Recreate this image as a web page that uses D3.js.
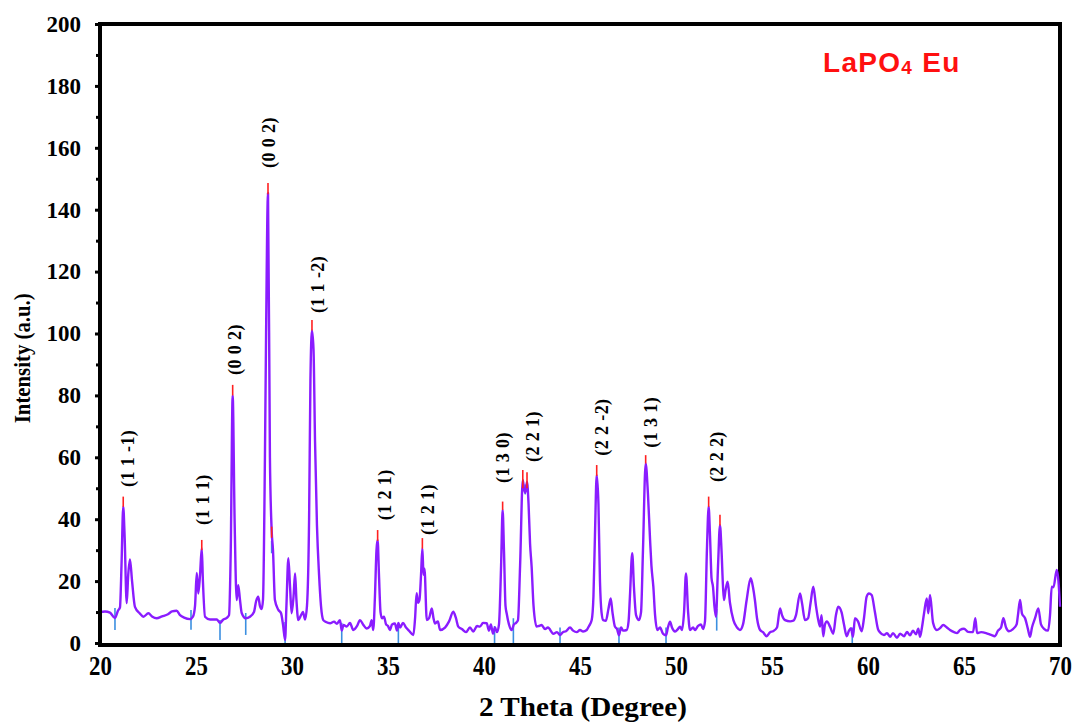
<!DOCTYPE html>
<html lang="en">
<head>
<meta charset="UTF-8">
<title>LaPO4 Eu XRD</title>
<script src="https://cdn.jsdelivr.net/npm/d3@7/dist/d3.min.js"></script>
<style>
  body { margin: 0; background: #fff; }
</style>
</head>
<body>
<svg id="chart" width="1080" height="724"></svg>
<script>
// axis ticks
const xTicks = [20, 25, 30, 35, 40, 45, 50, 55, 60, 65, 70];
const yTicks = [0, 20, 40, 60, 80, 100, 120, 140, 160, 180, 200];
const yMinorTicks = [10, 30, 50, 70, 90, 110, 130, 150, 170, 190];

// measured pattern [2theta, intensity]
const pattern = [
  [20.0, 10], [20.26, 10.2], [20.52, 9.8], [20.78, 8.1], [20.94, 10.5], [21.04, 11.5], [21.12, 25],
  [21.21, 44], [21.28, 35], [21.39, 12.9], [21.47, 22], [21.56, 27], [21.67, 20], [21.82, 11.7],
  [22.08, 9.5], [22.26, 8.5], [22.52, 9.6], [22.71, 8.6], [22.95, 8.0], [23.23, 8.6], [23.54, 9.3],
  [23.75, 10.2], [23.99, 10.4], [24.17, 9], [24.38, 8.2], [24.69, 7.7], [24.84, 8.5], [24.95, 12],
  [25.04, 22.6], [25.12, 16], [25.21, 22], [25.30, 30.6], [25.36, 20], [25.47, 8.5], [25.73, 7.6],
  [26.08, 7.6], [26.25, 6.5], [26.41, 7.5], [26.60, 8.1], [26.72, 9], [26.81, 30], [26.91, 80],
  [27.01, 40], [27.12, 13.9], [27.20, 18.7], [27.29, 14], [27.38, 9.7], [27.59, 8], [27.81, 8.5],
  [28.02, 10], [28.13, 13.5], [28.24, 15], [28.33, 12], [28.42, 11], [28.49, 14], [28.59, 60],
  [28.65, 100], [28.75, 145.4], [28.85, 60], [28.94, 36.5], [29.01, 30], [29.11, 13.9], [29.29, 10.7],
  [29.43, 9.6], [29.53, 6], [29.64, 1], [29.71, 12], [29.81, 27.4], [29.90, 18], [29.98, 9.6],
  [30.08, 15], [30.16, 22.5], [30.23, 14], [30.33, 7.4], [30.47, 9], [30.57, 10], [30.68, 7.6],
  [30.78, 12], [30.89, 40], [30.96, 85], [31.04, 101], [31.12, 95], [31.20, 65], [31.30, 38],
  [31.41, 22], [31.51, 12], [31.63, 7.4], [31.77, 6.8], [31.98, 6.4], [32.19, 6.9], [32.34, 6.2],
  [32.50, 7.4], [32.59, 4], [32.68, 5.8], [32.85, 5.3], [33.02, 6.5], [33.19, 4.2], [33.39, 5.5],
  [33.54, 7.4], [33.70, 6], [33.89, 4.7], [34.06, 5.5], [34.15, 7.4], [34.23, 4.2], [34.32, 15],
  [34.40, 30], [34.46, 33.3], [34.53, 22], [34.61, 10], [34.69, 8], [34.79, 8.5], [34.90, 6],
  [35.00, 5.5], [35.10, 4.2], [35.21, 6], [35.36, 6.3], [35.47, 4], [35.54, 6.5], [35.63, 5],
  [35.78, 6.5], [35.94, 5], [36.09, 4], [36.32, 2.6], [36.41, 8], [36.49, 16.1], [36.56, 13],
  [36.64, 14], [36.72, 22], [36.79, 30.6], [36.85, 22], [36.90, 24], [37.02, 7.4], [37.14, 8],
  [37.28, 11.2], [37.37, 8], [37.45, 6.3], [37.60, 7], [37.71, 4.2], [37.97, 5], [38.18, 7],
  [38.40, 10.1], [38.54, 8], [38.66, 5.3], [38.85, 4.5], [39.06, 3.5], [39.27, 5], [39.44, 3.7],
  [39.64, 5.5], [39.79, 5.3], [39.95, 6.5], [40.14, 6.4], [40.26, 4], [40.36, 6], [40.47, 3],
  [40.57, 5], [40.68, 3.5], [40.78, 6], [40.89, 25], [40.97, 43], [41.04, 30], [41.12, 12],
  [41.18, 9.6], [41.30, 6], [41.44, 4.2], [41.56, 6], [41.67, 6.5], [41.77, 7.4], [41.88, 25],
  [42.02, 52.7], [42.08, 50], [42.15, 48.5], [42.24, 52], [42.32, 45], [42.40, 32], [42.48, 24.7],
  [42.58, 12], [42.74, 5.3], [42.86, 5.5], [43.00, 5.8], [43.18, 4.5], [43.33, 5], [43.61, 3],
  [43.80, 3.5], [43.96, 2.6], [44.11, 3.5], [44.27, 3.8], [44.48, 5], [44.64, 4], [44.83, 3.5],
  [45.00, 4.2], [45.16, 3.7], [45.35, 4.2], [45.47, 5.5], [45.61, 7.4], [45.70, 15], [45.78, 35],
  [45.87, 54.3], [45.96, 45], [46.04, 20], [46.12, 10], [46.21, 7.4], [46.35, 7.2], [46.48, 11],
  [46.60, 14.4], [46.69, 10], [46.82, 5.3], [46.93, 4.5], [47.03, 2.5], [47.14, 5], [47.24, 4],
  [47.43, 4.2], [47.53, 7], [47.60, 15], [47.72, 29], [47.81, 18], [47.92, 9], [48.07, 7.4],
  [48.18, 10], [48.28, 30], [48.42, 58], [48.54, 48], [48.65, 33.3], [48.72, 25], [48.82, 18.2],
  [48.91, 9], [49.03, 4.2], [49.17, 5], [49.32, 3], [49.48, 2.5], [49.58, 5], [49.69, 6.9],
  [49.79, 5], [49.95, 3.7], [50.10, 4.5], [50.21, 5.3], [50.31, 4.2], [50.42, 10], [50.52, 22.5],
  [50.63, 10], [50.73, 4.2], [50.89, 5], [50.99, 4.2], [51.15, 5.5], [51.30, 6], [51.41, 4.5],
  [51.51, 7], [51.61, 30], [51.70, 44], [51.77, 35], [51.85, 21], [51.93, 18], [52.00, 12],
  [52.08, 8.5], [52.19, 25], [52.29, 38.1], [52.37, 30], [52.45, 18], [52.50, 13.9], [52.58, 17],
  [52.69, 19.8], [52.81, 13], [52.99, 7.4], [53.18, 5], [53.33, 4.2], [53.49, 6], [53.68, 13.9],
  [53.89, 20.9], [54.01, 18], [54.11, 13.9], [54.22, 8], [54.38, 4.2], [54.53, 3.5], [54.72, 2.2],
  [54.90, 3.5], [55.05, 3.8], [55.26, 5], [55.42, 11.2], [55.52, 9], [55.68, 7.4], [55.94, 7],
  [56.11, 7.2], [56.25, 9], [56.46, 16], [56.56, 13], [56.72, 7.4], [56.88, 8], [57.01, 13],
  [57.15, 18.2], [57.29, 12], [57.41, 7.4], [57.50, 5.3], [57.58, 9], [57.67, 2.2], [57.76, 6],
  [57.86, 7], [58.02, 5.3], [58.19, 3], [58.33, 9], [58.45, 11.7], [58.62, 10], [58.75, 6],
  [58.89, 2.2], [59.01, 4], [59.11, 4.8], [59.22, 2], [59.32, 8], [59.48, 7], [59.67, 3.8],
  [59.79, 8], [59.93, 15], [60.05, 16], [60.19, 15.5], [60.36, 10], [60.52, 4.5], [60.63, 3.4],
  [60.83, 2.6], [60.99, 3.2], [61.15, 2], [61.30, 3.2], [61.51, 1.7], [61.67, 3], [61.88, 2.2],
  [62.03, 3.6], [62.19, 2.5], [62.34, 4], [62.50, 2.8], [62.62, 4.6], [62.71, 2], [62.81, 5],
  [62.92, 9.6], [63.06, 14.4], [63.14, 9.6], [63.23, 15.5], [63.39, 6.5], [63.58, 4.2], [63.75, 4.8],
  [63.92, 5.8], [64.11, 5], [64.27, 4.2], [64.48, 3.5], [64.64, 3.2], [64.79, 4.2], [65.00, 4.6],
  [65.21, 3.6], [65.47, 3.5], [65.59, 8], [65.68, 3.2], [65.89, 3.5], [66.15, 3.2], [66.41, 2.6],
  [66.61, 2.2], [66.77, 4], [66.93, 5], [67.05, 8], [67.19, 5], [67.34, 3.8], [67.55, 4.5],
  [67.74, 6], [67.81, 9], [67.92, 13.9], [68.02, 9.5], [68.18, 8], [68.33, 4.5], [68.44, 2],
  [68.54, 5], [68.70, 8], [68.87, 11.2], [69.01, 6], [69.17, 4.6], [69.38, 4], [69.48, 9],
  [69.57, 18.2], [69.66, 18], [69.83, 23.6], [69.92, 20], [70.0, 11.7]
];

// red peak markers [2theta, from, to]
const peakMarks = [
  [21.21, 44, 47.3], [25.30, 30, 33.3], [26.91, 80, 83.4], [28.75, 145, 148.6], [28.94, 34, 37.6],
  [31.04, 101, 104.4], [34.46, 33, 36.5], [36.79, 30.5, 33.9], [40.97, 43, 45.7], [42.02, 50, 55.9],
  [42.24, 50, 55.2], [45.87, 54, 57.5], [48.42, 58, 60.7], [51.70, 44, 47.3], [52.29, 38, 41.4]
];

// blue reference markers [2theta, from, to]
const refMarks = [
  [20.78, 4.2, 11.3], [24.74, 4.3, 10.7], [26.25, 1, 7.4], [27.59, 2.6, 9.7], [28.94, 29, 33],
  [29.64, 0, 6.8], [32.59, 0, 6.5], [35.54, 0, 6.5], [40.55, 0, 5.5], [41.53, 0, 8],
  [42.15, 48, 51.2], [43.96, 0, 5], [47.03, 0, 5], [49.48, 0, 5], [52.12, 4, 11], [59.18, 0, 5]
];

// hkl labels [text, 2theta, intensity at label start]
const hklLabels = [
  ["(1 1 -1)", 21.46, 50.4], ["(1 1 1)", 25.36, 38.1], ["(0 0 2)", 27.03, 86.6],
  ["(0 0 2)", 28.80, 153.5], ["(1 1 -2)", 31.35, 106.6], ["(1 2 1)", 34.82, 39.7],
  ["(1 2 1)", 37.06, 34.9], ["(1 3 0)", 40.99, 51.7], ["(2 2 1)", 42.55, 58.5],
  ["(2 2 -2)", 46.15, 60.5], ["(1 3 1)", 48.67, 63.1], ["(2 2 2)", 52.11, 52]
];

const serif = "'Liberation Serif', 'Times New Roman', 'DejaVu Serif', serif";

const svg = d3.select("#chart");
const x = d3.scaleLinear().domain([20, 70]).range([100, 1060]);
const y = d3.scaleLinear().domain([0, 200]).range([643, 24]);

// frame (top and right)
svg.append("path")
    .attr("d", `M${x(20)},${y(200)} H${x(70)} V${y(0) + 2}`)
    .attr("fill", "none")
    .attr("stroke", "#000")
    .attr("stroke-width", 4);

// blue reference lines
svg.append("g").selectAll("line")
    .data(refMarks)
    .enter().append("line")
    .attr("x1", d => x(d[0])).attr("x2", d => x(d[0]))
    .attr("y1", d => y(d[1])).attr("y2", d => y(d[2]))
    .attr("stroke", "#3b8fe0")
    .attr("stroke-width", 1.6);

// pattern
const line = d3.line()
    .x(d => x(d[0]))
    .y(d => y(d[1]))
    .curve(d3.curveMonotoneX);

svg.append("path")
    .datum(pattern)
    .attr("d", line)
    .attr("fill", "none")
    .attr("stroke", "#8a1cff")
    .attr("stroke-width", 2.4)
    .attr("stroke-linejoin", "round");

// red peak marks
svg.append("g").selectAll("line")
    .data(peakMarks)
    .enter().append("line")
    .attr("x1", d => x(d[0])).attr("x2", d => x(d[0]))
    .attr("y1", d => y(d[1])).attr("y2", d => y(d[2]))
    .attr("stroke", "#ff2020")
    .attr("stroke-width", 1.6);

// hkl labels
svg.append("g").selectAll("text")
    .data(hklLabels)
    .enter().append("text")
    .attr("transform", d => `translate(${x(d[1])},${y(d[2])}) rotate(-90)`)
    .attr("dy", "0.35em")
    .style("font-family", serif)
    .style("font-weight", "bold")
    .style("font-size", "18px")
    .attr("letter-spacing", 0.4)
    .text(d => d[0]);

// y axis
const yAxis = svg.append("g")
    .attr("transform", `translate(${x(20)},0)`)
    .call(d3.axisLeft(y).tickValues(yTicks).tickSize(5).tickSizeOuter(0).tickPadding(14));
yAxis.select(".domain").attr("stroke-width", 4).attr("d", `M0,${y(200) - 2}V${y(0) + 2}`);
yAxis.selectAll(".tick line").attr("stroke-width", 3);
yAxis.selectAll(".tick text")
    .style("font-family", serif)
    .style("font-weight", "bold")
    .style("font-size", "23px");

const yMinor = svg.append("g")
    .attr("transform", `translate(${x(20)},0)`)
    .call(d3.axisLeft(y).tickValues(yMinorTicks).tickSize(4).tickFormat(""));
yMinor.select(".domain").remove();
yMinor.selectAll(".tick line").attr("stroke-width", 3);

// x axis
const xAxis = svg.append("g")
    .attr("transform", `translate(0,${y(0) + 2})`)
    .call(d3.axisBottom(x).tickValues(xTicks).tickSize(0).tickPadding(10));
xAxis.select(".domain").attr("stroke-width", 4).attr("d", `M${x(20) - 2},0H${x(70) + 2}`);
xAxis.selectAll(".tick text")
    .style("font-family", serif)
    .style("font-weight", "bold")
    .style("font-size", "26px")
    .attr("transform", "scale(0.88,1.06)");

// axis titles
svg.append("text")
    .attr("transform", `translate(30,${y(92)}) rotate(-90)`)
    .attr("text-anchor", "middle")
    .style("font-family", serif)
    .style("font-weight", "bold")
    .style("font-size", "24px")
    .attr("textLength", 130)
    .attr("lengthAdjust", "spacingAndGlyphs")
    .text("Intensity (a.u.)");

svg.append("text")
    .attr("x", (x(20) + x(70)) / 2 + 3)
    .attr("y", 716)
    .attr("text-anchor", "middle")
    .style("font-family", serif)
    .style("font-weight", "bold")
    .style("font-size", "27px")
    .attr("textLength", 208)
    .attr("lengthAdjust", "spacingAndGlyphs")
    .text("2 Theta (Degree)");

// sample name
const title = svg.append("text")
    .attr("x", 823)
    .attr("y", 72)
    .style("font-family", "'Liberation Sans', Arial, sans-serif")
    .style("font-weight", "bold")
    .style("fill", "#ff1010")
    .style("font-size", "28px")
    .attr("letter-spacing", 1.3);
title.append("tspan").text("LaPO");
title.append("tspan").style("font-size", "19px").attr("dy", 2).text("4");
title.append("tspan").attr("dy", -2).text(" Eu");
</script>
</body>
</html>
